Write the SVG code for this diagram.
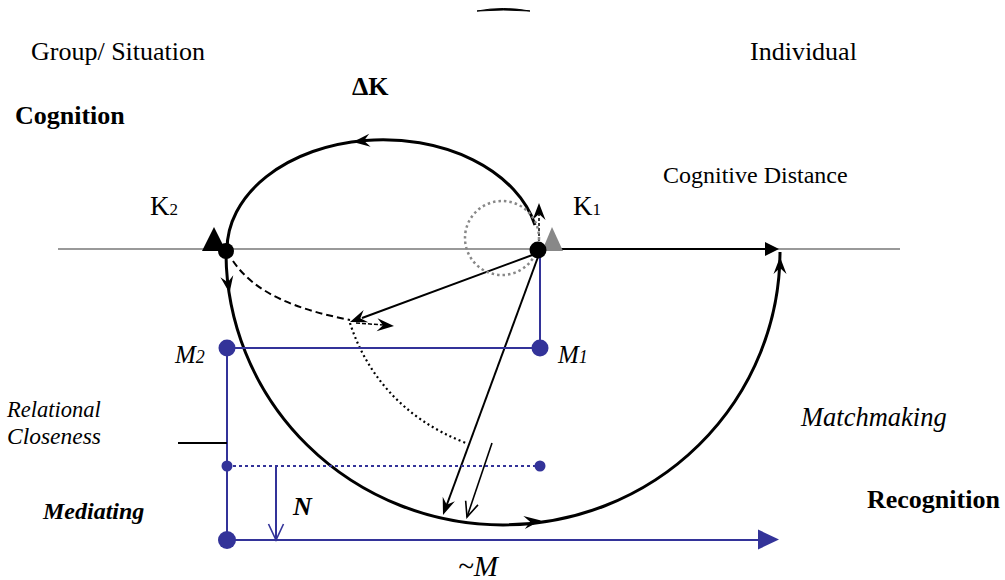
<svg xmlns="http://www.w3.org/2000/svg" width="1005" height="580" viewBox="0 0 1005 580">
<style>
text{font-family:'Liberation Serif','Times New Roman',Times,serif;fill:#000}
.b{font-weight:bold}
.i{font-style:italic}
.blue{stroke:#333399;stroke-width:2;fill:none}
.blk{stroke:#000;stroke-width:2;fill:none}
.arc{stroke:#000;stroke-width:3;fill:none}
</style>
<defs>
<path id="st" d="M0,0 L-17,-6.5 L-11,0 L-17,6.5 Z" fill="#000"/>
<path id="ov" d="M-15,-6.5 L0,0 L-15,6.5" fill="none" stroke="#000" stroke-width="1.6"/>
<path id="ovb" d="M-16,-7.5 L0,0 L-16,7.5" fill="none" stroke="#333399" stroke-width="1.6"/>
</defs>
<rect width="1005" height="580" fill="#fff"/>

<path d="M477,11 Q503,6 530,11 Q503,9 477,11 Z" fill="#000" stroke="#000" stroke-width="1"/>

<g id="axis">
<line x1="58" y1="249" x2="900" y2="249" stroke="#999" stroke-width="2"/>
</g>

<g id="connectors">
<path class="arc" d="M535,225 A156,110 0 0 0 227,250"/>
<use href="#st" transform="translate(353,142) rotate(174)"/>
<path class="arc" d="M226,252 A277,273 0 0 0 780,252"/>
<use href="#st" transform="translate(229.5,293) rotate(81)"/>
<use href="#st" transform="translate(541,520.5) rotate(-7)"/>
<use href="#st" transform="translate(780,257) rotate(-90)"/>
<line class="blk" x1="540" y1="249" x2="768" y2="249"/>
<path d="M779,249 L765,242 L765,256 Z" fill="#000"/>
<line x1="539" y1="246" x2="539" y2="212" stroke="#000" stroke-width="1.5" stroke-dasharray="3,2"/>
<use href="#st" transform="translate(539,203) rotate(-90)"/>
<line x1="535" y1="254" x2="362" y2="318" stroke="#000" stroke-width="2"/>
<use href="#st" transform="translate(350,322) rotate(159.5)"/>
<line x1="538" y1="257" x2="446" y2="507" stroke="#000" stroke-width="2"/>
<use href="#st" transform="translate(443,515) rotate(110)"/>
<line x1="492" y1="443" x2="467" y2="517" stroke="#000" stroke-width="1.6"/>
<use href="#ov" transform="translate(467,517) rotate(108.7)"/>
<path d="M233,261 C256,295 300,310 350,320" fill="none" stroke="#000" stroke-width="2" stroke-dasharray="7,4"/>
<line x1="356" y1="323" x2="384" y2="325" stroke="#000" stroke-width="1.5" stroke-dasharray="4,2"/>
<use href="#st" transform="translate(394,326) rotate(4)"/>
<path d="M350,323 C365,370 400,418 466,443" fill="none" stroke="#000" stroke-width="2.2" stroke-dasharray="2,3"/>
<circle cx="502" cy="238" r="37" fill="none" stroke="#888" stroke-width="2.5" stroke-dasharray="2.5,3"/>
<line class="blue" x1="540" y1="250" x2="540" y2="348"/>
<line class="blue" x1="227" y1="348" x2="540" y2="348"/>
<line class="blue" x1="227" y1="348" x2="227" y2="540"/>
<line class="blue" x1="227" y1="466" x2="540" y2="466" stroke-dasharray="3,3" stroke-width="2.5"/>
<line class="blue" x1="227" y1="540" x2="760" y2="540"/>
<path d="M779,539.5 L758,529.5 L758,549.5 Z" fill="#333399"/>
<line class="blue" x1="276" y1="466" x2="276" y2="539"/>
<use href="#ovb" transform="translate(276,540) rotate(90)"/>
<line x1="178" y1="443" x2="227" y2="443" stroke="#000" stroke-width="2"/>
</g>

<g id="K2">
<path d="M214,227 L202,251 L226,251 Z" fill="#000"/>
<circle cx="226" cy="251" r="8" fill="#000"/>
<text x="150" y="215" font-size="27">K<tspan font-size="17">2</tspan></text>
</g>
<g id="K1">
<path d="M552,227 L542,251 L563,251 Z" fill="#888"/>
<circle cx="538" cy="250" r="8.5" fill="#000"/>
<text x="573" y="215" font-size="27">K<tspan font-size="17">1</tspan></text>
</g>
<g id="M2">
<circle cx="227" cy="348" r="8.5" fill="#333399"/>
<text class="i" x="175" y="363" font-size="25">M<tspan font-size="18">2</tspan></text>
</g>
<g id="M1">
<circle cx="540" cy="348" r="8.5" fill="#333399"/>
<text class="i" x="558" y="363" font-size="25">M<tspan font-size="18">1</tspan></text>
</g>
<g id="mid-dots">
<circle cx="227" cy="466" r="5.5" fill="#333399"/>
<circle cx="540" cy="466" r="5.5" fill="#333399"/>
</g>
<g id="origin">
<circle cx="227" cy="540" r="9" fill="#333399"/>
</g>

<g id="labels">
<text x="31" y="60" font-size="26">Group/ Situation</text>
<text x="750" y="60" font-size="26">Individual</text>
<text class="b" x="352" y="95" font-size="26">ΔK</text>
<text class="b" x="15" y="124" font-size="26">Cognition</text>
<text x="663" y="183" font-size="24">Cognitive Distance</text>
<text class="i" x="7" y="417" font-size="22.5">Relational</text>
<text class="i" x="7" y="444" font-size="23.5">Closeness</text>
<text class="i" x="801" y="426" font-size="26.5">Matchmaking</text>
<text class="b i" x="43" y="519" font-size="24">Mediating</text>
<text class="b" x="867" y="508" font-size="26">Recognition</text>
<text class="b i" x="293" y="515" font-size="26">N</text>
<text class="i" x="458" y="576" font-size="29">~M</text>
</g>
</svg>
